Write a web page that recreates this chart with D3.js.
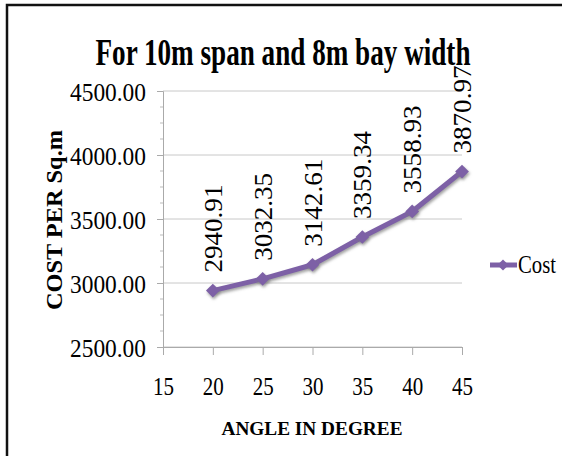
<!DOCTYPE html>
<html><head><meta charset="utf-8">
<script src="https://cdn.jsdelivr.net/npm/d3@7"></script>
<style>body{margin:0;background:#fff}svg{display:block}svg text{font-family:"Liberation Serif","Times New Roman",serif !important;fill:#000}</style>
</head><body>
<script>
const title = "For 10m span and 8m bay width";
const angles = [20, 25, 30, 35, 40, 45];
const cost = [2940.91, 3032.35, 3142.61, 3359.34, 3558.93, 3870.97];
const xTicks = [15, 20, 25, 30, 35, 40, 45];
const yTicks = [2500, 3000, 3500, 4000, 4500];
const seriesName = "Cost";
const xTitle = "ANGLE IN DEGREE";
const yTitle = "COST PER Sq.m";

const W = 562, H = 456;
const svg = d3.select("body").append("svg").attr("width", W).attr("height", H);
const defs = svg.append("defs");
const f = defs.append("filter").attr("id","sh").attr("x","-50%").attr("y","-50%").attr("width","200%").attr("height","200%");
f.append("feDropShadow").attr("dx",1).attr("dy",2).attr("stdDeviation",1.5).attr("flood-color","#777").attr("flood-opacity",0.7);

// frame (top & left visible)
svg.append("path").attr("d","M7,"+H+" V5 H"+W).attr("fill","none").attr("stroke","#111").attr("stroke-width",2.5);

const x = d3.scaleLinear().domain([15, 45]).range([163, 462]);
const y = d3.scaleLinear().domain([2500, 4500]).range([347, 91]);

// gridlines
svg.append("g").selectAll("line").data(yTicks).join("line")
  .attr("x1", x(15)).attr("x2", x(45)).attr("y1", d => y(d)).attr("y2", d => y(d))
  .attr("stroke", "#c8c8c8").attr("stroke-width", 1);

// y axis
const yAxis = svg.append("g").attr("transform", `translate(${x(15)},0)`)
  .call(d3.axisLeft(y).tickValues(yTicks).tickSize(6).tickFormat(d3.format(".2f")));
yAxis.attr("font-family", null);
yAxis.select(".domain").attr("stroke", "#aaa");
yAxis.selectAll(".tick line").attr("stroke", "#aaa");
yAxis.selectAll(".tick text").attr("x", -17).attr("font-size", 25)
  .attr("fill","#000").attr("dy","0.36em").attr("textLength", 76).attr("lengthAdjust","spacingAndGlyphs");
// minor ticks
const minor = d3.range(2500, 4501, 125).filter(v => v % 500 !== 0);
svg.append("g").selectAll("line").data(minor).join("line")
  .attr("x1", x(15) - 3).attr("x2", x(15)).attr("y1", d => y(d)).attr("y2", d => y(d))
  .attr("stroke", "#bbb");

// x axis
const xAxis = svg.append("g").attr("transform", `translate(0,${y(2500)})`)
  .call(d3.axisBottom(x).tickValues(xTicks).tickSize(8).tickFormat(d3.format("d")));
xAxis.attr("font-family", null);
xAxis.select(".domain").attr("stroke", "#aaa");
xAxis.selectAll(".tick line").attr("stroke", "#aaa");
xAxis.selectAll(".tick text").attr("y", 48).attr("dy", 0).attr("font-size", 25)
  .attr("fill","#000").attr("textLength", 21).attr("lengthAdjust","spacingAndGlyphs");

// title
svg.append("text").attr("x", 283).attr("y", 65).attr("text-anchor","middle")
  .attr("font-size", 38).attr("font-weight","bold").attr("textLength", 375).attr("lengthAdjust","spacingAndGlyphs").text(title);

// axis titles
svg.append("text").attr("x", 312).attr("y", 435).attr("text-anchor","middle")
  .attr("font-size", 19).attr("font-weight","bold").attr("textLength", 181).attr("lengthAdjust","spacingAndGlyphs").text(xTitle);
svg.append("text").attr("transform","translate(62,220) rotate(-90)").attr("text-anchor","middle")
  .attr("font-size", 23).attr("font-weight","bold").attr("textLength", 180).attr("lengthAdjust","spacingAndGlyphs").text(yTitle);

// line
const color = "#7d60a6";
const pts = angles.map((a, i) => [a, cost[i]]);
svg.append("path").datum(pts)
  .attr("d", d3.line().x(d => x(d[0])).y(d => y(d[1])))
  .attr("fill","none").attr("stroke", color).attr("stroke-width", 5).attr("stroke-linejoin","round")
  .attr("filter","url(#sh)");
const diamond = d3.symbol().type(d3.symbolDiamond2).size(120);
svg.append("g").selectAll("path").data(pts).join("path")
  .attr("transform", d => `translate(${x(d[0])},${y(d[1])})`)
  .attr("d", diamond).attr("fill", color).attr("filter","url(#sh)");

// data labels
svg.append("g").selectAll("text").data(pts).join("text")
  .attr("transform", d => `translate(${x(d[0]) + 9},${y(d[1]) - 18}) rotate(-90)`)
  .attr("font-size", 26).attr("textLength", 88).attr("lengthAdjust","spacingAndGlyphs")
  .text(d => d[1].toFixed(2));

// legend
svg.append("line").attr("x1", 490).attr("x2", 517).attr("y1", 265).attr("y2", 265)
  .attr("stroke", color).attr("stroke-width", 5);
svg.append("path").attr("transform","translate(503,265)").attr("d", d3.symbol().type(d3.symbolDiamond2).size(80)).attr("fill", color);
svg.append("text").attr("x", 518).attr("y", 273).attr("font-size", 26)
  .attr("textLength", 38).attr("lengthAdjust","spacingAndGlyphs").text(seriesName);
</script>
</body></html>
